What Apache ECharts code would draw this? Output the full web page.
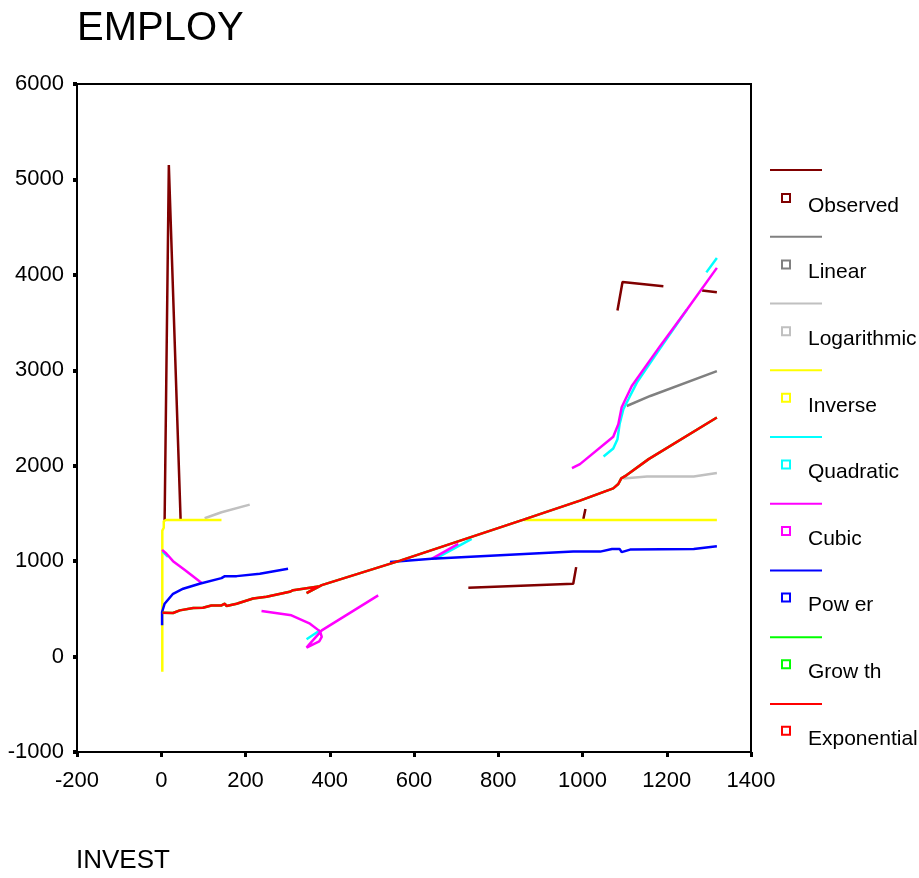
<!DOCTYPE html>
<html>
<head>
<meta charset="utf-8">
<script src="https://cdn.jsdelivr.net/npm/echarts@6/dist/echarts.min.js"></script>
<style>
  html, body { margin: 0; padding: 0; background: #fff; }
  #chart { width: 919px; height: 878px; }
</style>
</head>
<body>
<div id="chart"></div>
<script>
// Curve estimation of EMPLOY against INVEST: observed values and fitted models.
// Each series is a list of [INVEST, EMPLOY] points; a GAP entry breaks the line.
const GAP = [null, null];

const seriesNames = ['Observed', 'Linear', 'Logarithmic', 'Inverse', 'Quadratic',
                     'Cubic', 'Power', 'Growth', 'Exponential'];
const legendLabels = ['Observed', 'Linear', 'Logarithmic', 'Inverse', 'Quadratic',
                      'Cubic', 'Pow er', 'Grow th', 'Exponential'];
const seriesColors = ['#800000', '#808080', '#c0c0c0', '#ffff00', '#00ffff',
                      '#ff00ff', '#0000ff', '#00ff00', '#ff0000'];

const xTicks = { min: -200, max: 1400, step: 200 };
const yTicks = { min: -1000, max: 6000, step: 1000 };

const observed = [
  [8, 1430], [18, 5150], [46, 1430], GAP,
  [729, 721], [978, 763], [985, 937], GAP,
  [1002, 1442], [1007, 1547], GAP,
  [1083, 3626], [1095, 3926], [1192, 3880], GAP,
  [1284, 3835], [1319, 3817]
];

const linear = [
  [1105, 2626], [1161, 2731], [1319, 2992]
];

const logarithmic = [
  [103, 1449], [143, 1512], [210, 1592], GAP,
  [1097, 1867], [1153, 1888], [1264, 1888], [1319, 1923]
];

const inverse = [
  [2.5, -160], [2.5, 1320], [6, 1350], [6, 1420], [12, 1432], [143, 1432], GAP,
  [860, 1432], [1319, 1432]
];

const quadratic = [
  [3, 1100], [16, 1045], GAP,
  [345, 181], [377, 275], GAP,
  [650, 1024], [737, 1233], GAP,
  [1050, 2097], [1073, 2181], [1083, 2278], [1088, 2435], [1097, 2592],
  [1109, 2696], [1129, 2871], [1177, 3184], [1248, 3637], GAP,
  [1294, 4026], [1319, 4177]
];

const cubic = [
  [2, 1118], [12, 1080], [28, 1000], [56, 906], [96, 770], GAP,
  [238, 478], [309, 432], [353, 345], [377, 264], [381, 206], [375, 160],
  [345, 94], [353, 136], [381, 275], [515, 641], GAP,
  [642, 1024], [705, 1181], GAP,
  [975, 1975], [994, 2017], [1073, 2303], [1085, 2435], [1093, 2613],
  [1117, 2835], [1184, 3253], [1248, 3637], [1319, 4073]
];

const power = [
  [2, 327], [2, 467], [8, 554], [28, 658], [52, 711], [91, 763], [143, 822],
  [151, 843], [179, 843], [234, 867], [301, 920], GAP,
  [543, 990], [642, 1024], [978, 1100], [1042, 1100], [1070, 1128], [1088, 1128],
  [1093, 1094], [1113, 1121], [1264, 1128], [1319, 1156]
];

const exponential = [
  [3, 460], [28, 457], [44, 484], [76, 509], [99, 512], [119, 536], [143, 536],
  [151, 554], [155, 530], [179, 554], [218, 609], [250, 627], [305, 679],
  [313, 696], [373, 735], [345, 664], [381, 749], [567, 1006], [860, 1435],
  [994, 1634], [1073, 1763], [1085, 1808], [1092, 1868], [1105, 1902],
  [1157, 2069], [1319, 2505]
];

// Growth and exponential models give the same fitted curve.
const growth = exponential.map(p => p.slice());

const seriesData = [observed, linear, logarithmic, inverse, quadratic,
                    cubic, power, growth, exponential];

const FONT = "'Liberation Sans', Arial, sans-serif";

const chart = echarts.init(document.getElementById('chart'), null, { renderer: 'canvas' });

const lineSeries = seriesNames.map((name, i) => ({
  name: name,
  type: 'line',
  data: seriesData[i],
  showSymbol: false,
  symbol: 'none',
  connectNulls: false,
  animation: false,
  color: seriesColors[i],
  lineStyle: { color: seriesColors[i], width: 2.5 },
  emphasis: { disabled: true },
  z: 2 + i
}));

chart.setOption({
  backgroundColor: '#fff',
  animation: false,
  title: [
    {
      text: 'EMPLOY', left: 77, top: 9, padding: 0,
      textStyle: { fontFamily: FONT, fontSize: 40, lineHeight: 40, fontWeight: 'normal', color: '#000' }
    },
    {
      text: 'INVEST', left: 76, top: 848, padding: 0,
      textStyle: { fontFamily: FONT, fontSize: 26, lineHeight: 26, fontWeight: 'normal', color: '#000' }
    }
  ],
  legend: [
    {
      // line samples
      data: seriesNames,
      orient: 'vertical',
      left: 770, top: 157, padding: 0,
      itemWidth: 52, itemHeight: 2, itemGap: 40.75,
      icon: 'rect',
      itemStyle: { borderWidth: 0 },
      formatter: () => ' ',
      textStyle: { fontFamily: FONT, fontSize: 21, lineHeight: 26, color: '#000' },
      selectedMode: false
    },
    {
      // hollow square markers with labels set a little below the marker
      data: seriesNames,
      orient: 'vertical',
      left: 781, top: 179.5, padding: 0,
      itemWidth: 10, itemHeight: 10, itemGap: 29.6,
      icon: 'path://M0,0H10V10H0Z M2,2V8H8V2Z',
      itemStyle: { borderWidth: 0 },
      formatter: name => '\n' + legendLabels[seriesNames.indexOf(name)],
      textStyle: { fontFamily: FONT, fontSize: 21, lineHeight: 16, color: '#000', padding: [0, 0, 0, 12] },
      selectedMode: false
    }
  ],
  grid: {
    left: 77, right: 168, top: 84, bottom: 126,
    outerBoundsMode: 'none', containLabel: false,
    show: true, borderColor: '#000', borderWidth: 2, backgroundColor: '#fff'
  },
  xAxis: {
    type: 'value',
    min: xTicks.min, max: xTicks.max, interval: xTicks.step,
    axisLine: { show: true, onZero: false, lineStyle: { color: '#000', width: 2 } },
    axisTick: { show: true, inside: false, length: 5, lineStyle: { color: '#000', width: 3 } },
    axisLabel: { margin: 18, fontFamily: FONT, fontSize: 22, color: '#000', formatter: v => String(v) },
    splitLine: { show: false }
  },
  yAxis: {
    type: 'value',
    min: yTicks.min, max: yTicks.max, interval: yTicks.step,
    axisLine: { show: true, onZero: false, lineStyle: { color: '#000', width: 2 } },
    axisTick: { show: true, inside: false, length: 4, lineStyle: { color: '#000', width: 4 } },
    axisLabel: { margin: 13, fontFamily: FONT, fontSize: 22, color: '#000', formatter: v => String(v) },
    splitLine: { show: false }
  },
  series: lineSeries
});
</script>
</body>
</html>
